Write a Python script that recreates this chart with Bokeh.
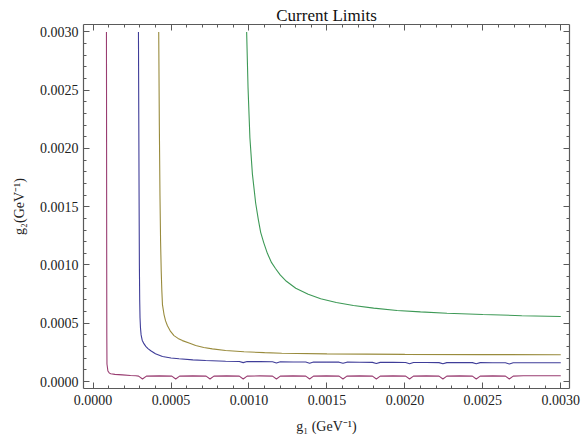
from bokeh.plotting import figure
from bokeh.models import Range1d, LinearAxis, FixedTicker, PrintfTickFormatter
from bokeh.embed import file_html
from bokeh.resources import INLINE

# ---------------- data ----------------
title_text = "Current Limits"
x_label = "g₁ (GeV⁻¹)"
y_label = "g₂(GeV⁻¹)"

major_ticks = [0.0000, 0.0005, 0.0010, 0.0015, 0.0020, 0.0025, 0.0030]
minor_ticks = [0.0000, 0.0001, 0.0002, 0.0003, 0.0004, 0.0005, 0.0006, 0.0007, 0.0008, 0.0009,
               0.0010, 0.0011, 0.0012, 0.0013, 0.0014, 0.0015, 0.0016, 0.0017, 0.0018, 0.0019,
               0.0020, 0.0021, 0.0022, 0.0023, 0.0024, 0.0025, 0.0026, 0.0027, 0.0028, 0.0029, 0.0030]

purple_x = [0.0000857, 0.0000866, 0.0000874, 0.0000880, 0.0000890, 0.0000950, 0.000105, 0.000113,
            0.000140, 0.000188, 0.000240, 0.000274,
            0.000292, 0.000317, 0.000342, 0.000424,
            0.000505, 0.000530, 0.000555, 0.000640,
            0.000725, 0.000750, 0.000775, 0.000857,
            0.000938, 0.000963, 0.000988, 0.001070,
            0.001151, 0.001176, 0.001201, 0.001283,
            0.001364, 0.001389, 0.001414, 0.001496,
            0.001578, 0.001603, 0.001628, 0.001710,
            0.001792, 0.001817, 0.001842, 0.001924,
            0.002005, 0.002030, 0.002055, 0.002137,
            0.002219, 0.002244, 0.002269, 0.002351,
            0.002433, 0.002458, 0.002483, 0.002564,
            0.002645, 0.002670, 0.002695, 0.002760, 0.003000]
purple_y = [0.003000, 0.002000, 0.001000, 0.000400, 0.000150, 0.000090, 0.000072, 0.000066,
            0.000061, 0.000057, 0.000052, 0.000049,
            0.000046, 0.000022, 0.000046, 0.000048,
            0.000046, 0.000022, 0.000046, 0.000048,
            0.000046, 0.000022, 0.000046, 0.000048,
            0.000046, 0.000022, 0.000046, 0.000048,
            0.000046, 0.000022, 0.000046, 0.000048,
            0.000046, 0.000022, 0.000046, 0.000048,
            0.000046, 0.000022, 0.000046, 0.000048,
            0.000046, 0.000022, 0.000046, 0.000048,
            0.000046, 0.000022, 0.000046, 0.000048,
            0.000046, 0.000022, 0.000046, 0.000048,
            0.000046, 0.000022, 0.000046, 0.000048,
            0.000046, 0.000022, 0.000046, 0.000049, 0.000049]

blue_x = [0.000291, 0.000293, 0.000295, 0.000297, 0.000299, 0.000301, 0.000304, 0.000308, 0.000315,
          0.000326, 0.000338, 0.000352, 0.000370, 0.000400, 0.000445, 0.000500, 0.000551, 0.000640,
          0.000722, 0.000850,
          0.000938, 0.000963, 0.000988, 0.001070,
          0.001151, 0.001176, 0.001201, 0.001283,
          0.001364, 0.001389, 0.001414, 0.001496,
          0.001578, 0.001603, 0.001628, 0.001710,
          0.001792, 0.001817, 0.001842, 0.001924,
          0.002005, 0.002030, 0.002055, 0.002137,
          0.002219, 0.002244, 0.002269, 0.002351,
          0.002433, 0.002458, 0.002483, 0.002564,
          0.002645, 0.002670, 0.002695, 0.003000]
blue_y = [0.003000, 0.002300, 0.001600, 0.001000, 0.000700, 0.000550, 0.000460, 0.000400, 0.000355,
          0.000325, 0.000302, 0.000282, 0.000264, 0.000238, 0.000214, 0.000202, 0.000195, 0.000186,
          0.000180, 0.000174,
          0.000172, 0.000162, 0.000171, 0.000171,
          0.000169, 0.000159, 0.000169, 0.000168,
          0.000167, 0.000157, 0.000167, 0.000166,
          0.000166, 0.000156, 0.000166, 0.000165,
          0.000164, 0.000154, 0.000164, 0.000164,
          0.000163, 0.000153, 0.000163, 0.000163,
          0.000162, 0.000152, 0.000162, 0.000162,
          0.000162, 0.000152, 0.000162, 0.000161,
          0.000161, 0.000151, 0.000161, 0.000161]

olive_x = [0.000421, 0.000425, 0.000429, 0.000433, 0.000437, 0.000441, 0.000445, 0.000455, 0.000465,
           0.000477, 0.000497, 0.000519, 0.000545, 0.000573, 0.000620, 0.000658, 0.000710, 0.000765,
           0.000850, 0.000968, 0.001100, 0.001210, 0.001500, 0.002000, 0.002500, 0.003000]
olive_y = [0.003000, 0.002200, 0.001600, 0.001200, 0.000950, 0.000780, 0.000660, 0.000575, 0.000520,
           0.000478, 0.000430, 0.000394, 0.000370, 0.000351, 0.000328, 0.000309, 0.000292, 0.000280,
           0.000266, 0.000255, 0.000248, 0.000243, 0.000237, 0.000233, 0.000231, 0.000230]

green_x = [0.000985, 0.000994, 0.001006, 0.001022, 0.001043, 0.001060, 0.001075, 0.001095, 0.001118,
           0.001145, 0.001170, 0.001200, 0.001240, 0.001300, 0.001380, 0.001460, 0.001560, 0.001670,
           0.001800, 0.001950, 0.002100, 0.002270, 0.002500, 0.002750, 0.003000]
green_y = [0.003000, 0.002520, 0.002090, 0.001780, 0.001530, 0.001390, 0.001280, 0.001190, 0.001100,
           0.001020, 0.000970, 0.000915, 0.000860, 0.000800, 0.000748, 0.000710, 0.000678, 0.000652,
           0.000630, 0.000610, 0.000598, 0.000586, 0.000575, 0.000565, 0.000558]

series = [
    (purple_x, purple_y, "#993d71"),
    (blue_x, blue_y, "#3f3d99"),
    (olive_x, olive_y, "#998b3d"),
    (green_x, green_y, "#3d9956"),
]

# ---------------- figure ----------------
FONT = "Liberation Serif"
FRAME = "#5a5a5a"

p = figure(width=581, height=439, output_backend="svg", toolbar_location=None,
           x_range=Range1d(-0.0000615, 0.003056), y_range=Range1d(-0.00006, 0.003064),
           min_border_left=83, min_border_right=12, min_border_top=24, min_border_bottom=51,
           x_axis_location=None, y_axis_location=None)
p.outline_line_color = None
p.xgrid.visible = False
p.ygrid.visible = False
p.background_fill_color = "white"
p.border_fill_color = "white"

p.title.text = title_text
p.title.align = "center"
p.title.text_font = FONT
p.title.text_font_size = "17px"
p.title.text_font_style = "normal"
p.title.text_color = "#111111"
p.title.standoff = 0
p.title.offset = 0
p.title.text_line_height = 0.9


def make_axis(show_labels):
    ax = LinearAxis(ticker=FixedTicker(ticks=major_ticks, minor_ticks=minor_ticks),
                    formatter=PrintfTickFormatter(format="%.4f"))
    ax.axis_line_color = FRAME
    ax.axis_line_width = 1.2
    ax.major_tick_line_color = FRAME
    ax.minor_tick_line_color = FRAME
    ax.major_tick_in = 6
    ax.major_tick_out = 0
    ax.minor_tick_in = 3
    ax.minor_tick_out = 0
    ax.major_tick_line_width = 1
    ax.minor_tick_line_width = 1
    if show_labels:
        ax.major_label_text_font = FONT
        ax.major_label_text_font_size = "14px"
        ax.major_label_text_color = "#222222"
        ax.major_label_standoff = 5
        ax.axis_label_text_font = FONT
        ax.axis_label_text_font_size = "14px"
        ax.axis_label_text_font_style = "normal"
        ax.axis_label_text_color = "#222222"
    else:
        ax.major_label_text_font_size = "1px"
        ax.major_label_text_color = None
        ax.major_label_standoff = 0
    return ax


xb = make_axis(True)
xb.axis_label = x_label
xb.major_label_standoff = 6
xb.axis_label_standoff = 11
yl = make_axis(True)
yl.axis_label = y_label
yl.axis_label_standoff = 10
xt = make_axis(False)
yr = make_axis(False)

p.add_layout(xb, "below")
p.add_layout(yl, "left")
p.add_layout(xt, "above")
p.add_layout(yr, "right")

for xs, ys, col in series:
    p.line(xs, ys, line_color=col, line_width=1.1)

open("out.html", "w").write(file_html(p, INLINE))
